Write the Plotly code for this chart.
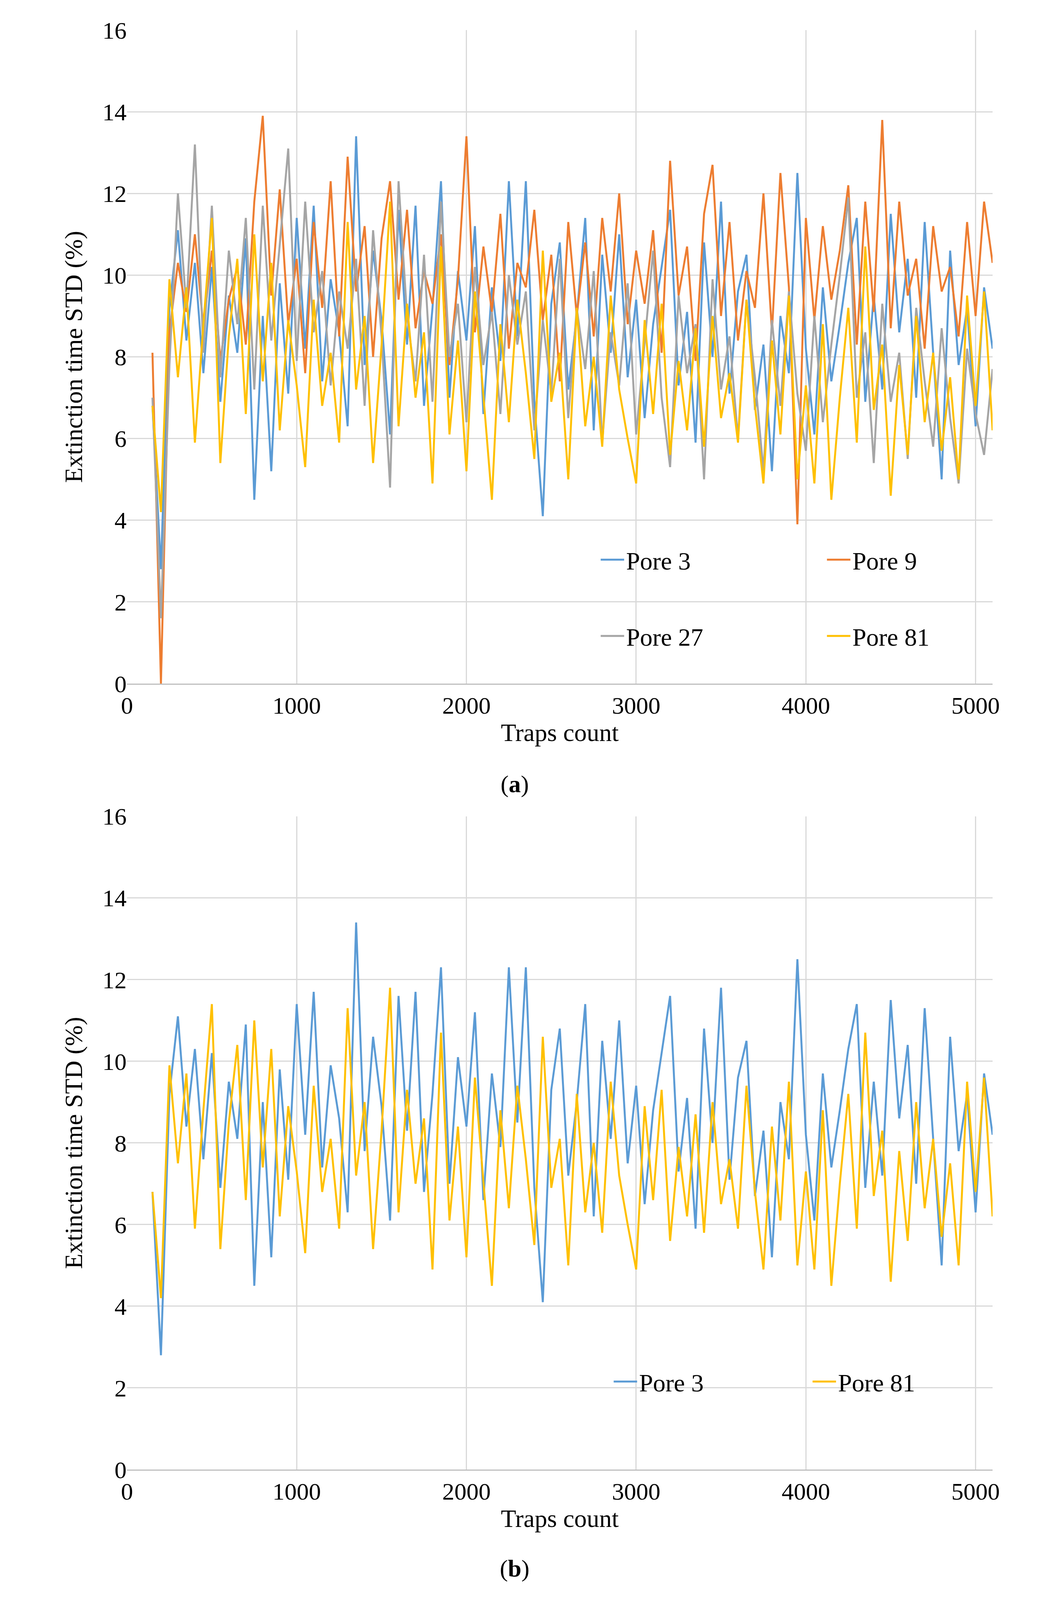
import plotly.graph_objects as go

x = list(range(150, 5101, 50))
pore3 = [6.8,2.8,9.2,11.1,8.4,10.3,7.6,10.2,6.9,9.5,8.1,10.9,4.5,9.0,5.2,9.8,7.1,11.4,8.2,11.7,
         7.4,9.9,8.6,6.3,13.4,7.8,10.6,8.9,6.1,11.6,8.3,11.7,6.8,9.2,12.3,7.0,10.1,8.4,11.2,6.6,
         9.7,7.9,12.3,8.5,12.3,6.9,4.1,9.3,10.8,7.2,9.0,11.4,6.2,10.5,8.1,11.0,7.5,9.4,6.5,8.8,
         10.2,11.6,7.3,9.1,5.9,10.8,8.0,11.8,7.1,9.6,10.5,6.7,8.3,5.2,9.0,7.6,12.5,8.2,6.1,9.7,
         7.4,8.8,10.3,11.4,6.9,9.5,7.2,11.5,8.6,10.4,7.0,11.3,8.1,5.0,10.6,7.8,9.2,6.3,9.7,8.2]
pore9 = [8.1,0.0,8.6,10.3,9.1,11.0,8.7,10.6,7.9,9.4,10.2,8.3,11.8,13.9,9.5,12.1,8.8,10.4,7.6,11.3,
         9.2,12.3,8.5,12.9,9.6,11.2,8.0,10.9,12.3,9.4,11.6,8.7,10.1,9.3,11.0,7.8,9.9,13.4,8.6,10.7,
         9.1,11.5,8.2,10.3,9.7,11.6,8.9,10.5,7.4,11.3,9.0,10.8,8.5,11.4,9.6,12.0,8.8,10.6,9.3,11.1,
         8.1,12.8,9.5,10.7,7.9,11.5,12.7,9.0,11.3,8.4,10.1,9.2,12.0,8.6,12.5,9.7,3.9,11.4,8.9,11.2,
         9.4,10.6,12.2,8.3,11.8,9.1,13.8,8.7,11.8,9.5,10.4,8.2,11.2,9.6,10.2,8.5,11.3,9.0,11.8,10.3]
pore27 = [7.0,1.6,7.8,12.0,9.2,13.2,8.1,11.7,7.5,10.6,8.8,11.4,7.2,11.7,8.4,10.8,13.1,7.9,11.8,8.6,
          10.1,7.3,9.6,8.2,10.4,6.8,11.1,8.5,4.8,12.3,9.0,7.4,10.5,6.9,11.8,8.0,9.3,6.4,10.2,7.8,
          9.1,6.6,10.0,8.3,9.6,6.2,8.9,7.1,10.4,6.5,9.2,7.7,10.1,5.9,8.6,7.3,9.8,6.1,8.4,10.6,
          7.0,5.3,9.5,7.6,8.8,5.0,9.9,7.2,8.5,6.0,9.4,7.5,5.2,8.9,6.8,9.6,7.1,5.7,9.0,6.4,
          8.3,10.0,11.9,7.0,8.6,5.4,9.3,6.9,8.1,5.5,9.2,7.4,5.8,8.7,6.5,4.9,8.2,6.6,5.6,7.7]
pore81 = [6.8,4.2,9.9,7.5,9.7,5.9,8.8,11.4,5.4,8.5,10.4,6.6,11.0,7.4,10.3,6.2,8.9,7.3,5.3,9.4,
          6.8,8.1,5.9,11.3,7.2,9.0,5.4,8.3,11.8,6.3,9.3,7.0,8.6,4.9,10.7,6.1,8.4,5.2,9.6,7.1,
          4.5,8.8,6.4,9.4,7.6,5.5,10.6,6.9,8.1,5.0,9.2,6.3,8.0,5.8,9.5,7.2,6.0,4.9,8.9,6.6,
          9.3,5.6,7.9,6.2,8.7,5.8,9.0,6.5,7.6,5.9,9.4,6.8,4.9,8.4,6.1,9.5,5.0,7.3,4.9,8.8,
          4.5,7.0,9.2,5.9,10.7,6.7,8.3,4.6,7.8,5.6,9.0,6.4,8.1,5.7,7.5,5.0,9.5,6.8,9.6,6.2]

names = ["Pore 3", "Pore 9", "Pore 27", "Pore 81"]
colors = ["#5B9BD5", "#ED7D31", "#A5A5A5", "#FFC000"]
series_a = [pore3, pore9, pore27, pore81]
legends_a = ["legend", "legend", "legend2", "legend2"]

FONT = "Liberation Serif"
fig = go.Figure()
for n, c, s, lg in zip(names, colors, series_a, legends_a):
    fig.add_trace(go.Scatter(x=x, y=s, mode="lines", name=n, line=dict(color=c, width=5),
                             xaxis="x", yaxis="y", legend=lg))
for n, c, s in [("Pore 3", colors[0], pore3), ("Pore 81", colors[3], pore81)]:
    fig.add_trace(go.Scatter(x=x, y=s, mode="lines", name=n, line=dict(color=c, width=5),
                             xaxis="x2", yaxis="y2", legend="legend3"))

ax = dict(range=[0, 5100], dtick=1000, showgrid=True, gridcolor="#D9D9D9", gridwidth=3,
          showline=True, linecolor="#BFBFBF", linewidth=3, zeroline=False, ticks="",
          tickfont=dict(family=FONT, size=62, color="black"),
          title=dict(text="Traps count", font=dict(family=FONT, size=64, color="black"), standoff=10))
ay = dict(range=[0, 16], dtick=2, showgrid=True, gridcolor="#D9D9D9", gridwidth=3,
          zeroline=False, ticks="", tickfont=dict(family=FONT, size=62, color="black"),
          title=dict(text="Extinction time STD (%)", font=dict(family=FONT, size=64, color="black"), standoff=30))

leg = dict(orientation="h", xanchor="left", yanchor="middle", entrywidth=504, entrywidthmode="pixels",
           itemwidth=60, bgcolor="rgba(0,0,0,0)", font=dict(family=FONT, size=64, color="black"))

caption_y = {"a": 0.855 * 0 + (4509 - 2395) / 4440, "b": (4509 - 4814) / 4440}

fig.update_layout(
    autosize=True, paper_bgcolor="white", plot_bgcolor="white",
    margin=dict(l=317, r=63, t=69, b=342),
    xaxis=dict(ax, domain=[0, 1], anchor="y"),
    yaxis=dict(ay, domain=[0.546, 1.0], anchor="x"),
    xaxis2=dict(ax, domain=[0, 1], anchor="y2"),
    yaxis2=dict(ay, domain=[0.0, 0.4538], anchor="x2"),
    legend=dict(leg, x=0.545, y=0.632),
    legend2=dict(leg, x=0.545, y=0.579),
    legend3=dict(leg, x=0.56, y=0.061, entrywidth=434),
    annotations=[
        dict(text="(<b>a</b>)", x=0.448, y=caption_y["a"], xref="paper", yref="paper", showarrow=False,
             yanchor="middle", font=dict(family=FONT, size=62, color="black")),
        dict(text="(<b>b</b>)", x=0.448, y=caption_y["b"], xref="paper", yref="paper", showarrow=False,
             yanchor="middle", font=dict(family=FONT, size=62, color="black")),
    ],
)
fig.write_html("out.html", default_width="100%", default_height="100vh",
               config={"responsive": True})
